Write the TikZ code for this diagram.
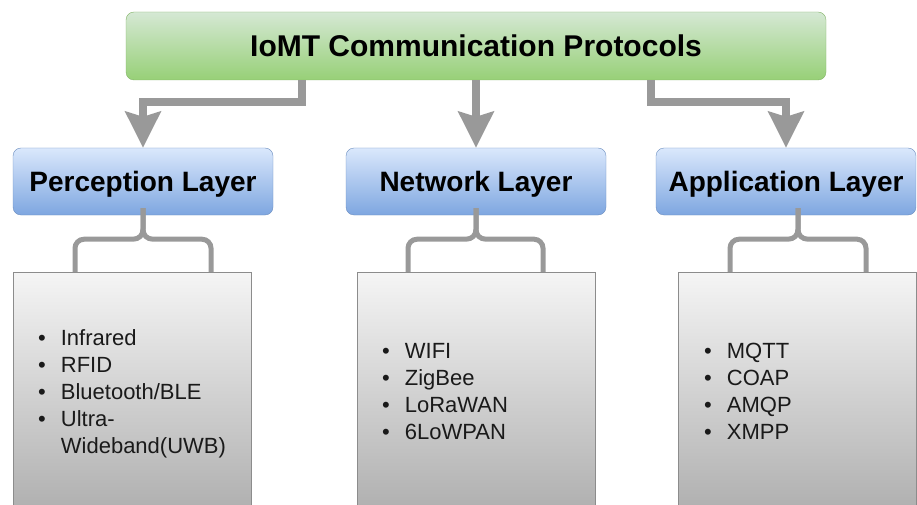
\documentclass[tikz,border=0pt]{standalone}
\usepackage{fontspec}
\setmainfont{Liberation Sans}
\usetikzlibrary{arrows.meta,calc}

\definecolor{titletop}{HTML}{D5E8D4}
\definecolor{titlebot}{HTML}{97D077}
\definecolor{titleline}{HTML}{82B366}
\definecolor{layertop}{HTML}{DAE8FC}
\definecolor{layerbot}{HTML}{7EA6E0}
\definecolor{layerline}{HTML}{6C8EBF}
\definecolor{listtop}{HTML}{F5F5F5}
\definecolor{listbot}{HTML}{ACACAC}
\definecolor{listline}{HTML}{8C8C8C}
\definecolor{linkgray}{HTML}{999999}
\definecolor{itemtext}{HTML}{1A1A1A}

\tikzset{
  link/.style={draw=linkgray,line width=8.5pt,-{Stealth[length=36pt,width=35pt,inset=5pt]}},
  brace/.style={draw=linkgray,line width=5pt},
  items/.style={anchor=north west,inner sep=0pt,text=itemtext,font=\fontsize{22}{27}\selectfont}
}

\begin{document}
\begin{tikzpicture}[x=1pt,y=-1pt]
  \useasboundingbox (0,0) rectangle (917,505);

  \node[draw=titleline,top color=titletop,bottom color=titlebot,rounded corners=8pt,
        minimum width=700pt,minimum height=68pt,font=\fontsize{30}{36}\selectfont\bfseries]
        (iomt) at (476,46) {IoMT Communication Protocols};

  \begin{scope}[every node/.style={draw=layerline,top color=layertop,bottom color=layerbot,
      rounded corners=8pt,minimum width=260pt,minimum height=67pt,text depth=0pt,
      font=\fontsize{28}{34}\selectfont\bfseries}]
    \node (perc) at (143,181.5) {Perception Layer};
    \node (netw) at (476,181.5) {Network Layer};
    \node (appl) at (786,181.5) {Application Layer};
  \end{scope}

  \begin{scope}[every node/.style={draw=listline,top color=listtop,bottom color=listbot,
      minimum width=238pt,minimum height=250pt,anchor=north}]
    \node (perclist) at (132,272) {};
    \node (netwlist) at (476,272) {};
    \node (appllist) at (797,272) {};
  \end{scope}

  \node[items] (percitems) at (38,326) {\begin{tabular}{@{}l@{\hspace{15pt}}l@{}}
      \textbullet & Infrared\\
      \textbullet & RFID\\
      \textbullet & Bluetooth/BLE\\
      \textbullet & Ultra-\\
                  & Wideband(UWB)
    \end{tabular}};
  \node[items] (netwitems) at (382,339) {\begin{tabular}{@{}l@{\hspace{15pt}}l@{}}
      \textbullet & WIFI\\
      \textbullet & ZigBee\\
      \textbullet & LoRaWAN\\
      \textbullet & 6LoWPAN
    \end{tabular}};
  \node[items] (applitems) at (704,339) {\begin{tabular}{@{}l@{\hspace{15pt}}l@{}}
      \textbullet & MQTT\\
      \textbullet & COAP\\
      \textbullet & AMQP\\
      \textbullet & XMPP
    \end{tabular}};

  \draw[link] ([xshift=-174pt]iomt.south) -- ++(0,22) -| (perc.north);
  \draw[link] (iomt.south) -- (netw.north);
  \draw[link] ([xshift=175pt]iomt.south) -- ++(0,22) -| (appl.north);

  \draw[brace] ([yshift=7pt]perc.south) -- ++(0,21) .. controls +(0,6) and +(6,0) .. ++(-10,10)
    [rounded corners=9pt] -| ($(perc.south |- perclist.north)+(-68,0)$);
  \draw[brace] ([yshift=7pt]perc.south) -- ++(0,21) .. controls +(0,6) and +(-6,0) .. ++(10,10)
    [rounded corners=9pt] -| ($(perc.south |- perclist.north)+(68,0)$);
  \draw[brace] ([yshift=7pt]netw.south) -- ++(0,21) .. controls +(0,6) and +(6,0) .. ++(-10,10)
    [rounded corners=9pt] -| ($(netw.south |- netwlist.north)+(-68,0)$);
  \draw[brace] ([yshift=7pt]netw.south) -- ++(0,21) .. controls +(0,6) and +(-6,0) .. ++(10,10)
    [rounded corners=9pt] -| ($(netw.south |- netwlist.north)+(67,0)$);
  \draw[brace] ([xshift=12pt,yshift=7pt]appl.south) -- ++(0,21) .. controls +(0,6) and +(6,0) .. ++(-10,10)
    [rounded corners=9pt] -| ($(appl.south |- appllist.north)+(-56,0)$);
  \draw[brace] ([xshift=12pt,yshift=7pt]appl.south) -- ++(0,21) .. controls +(0,6) and +(-6,0) .. ++(10,10)
    [rounded corners=9pt] -| ($(appl.south |- appllist.north)+(80,0)$);
\end{tikzpicture}
\end{document}
